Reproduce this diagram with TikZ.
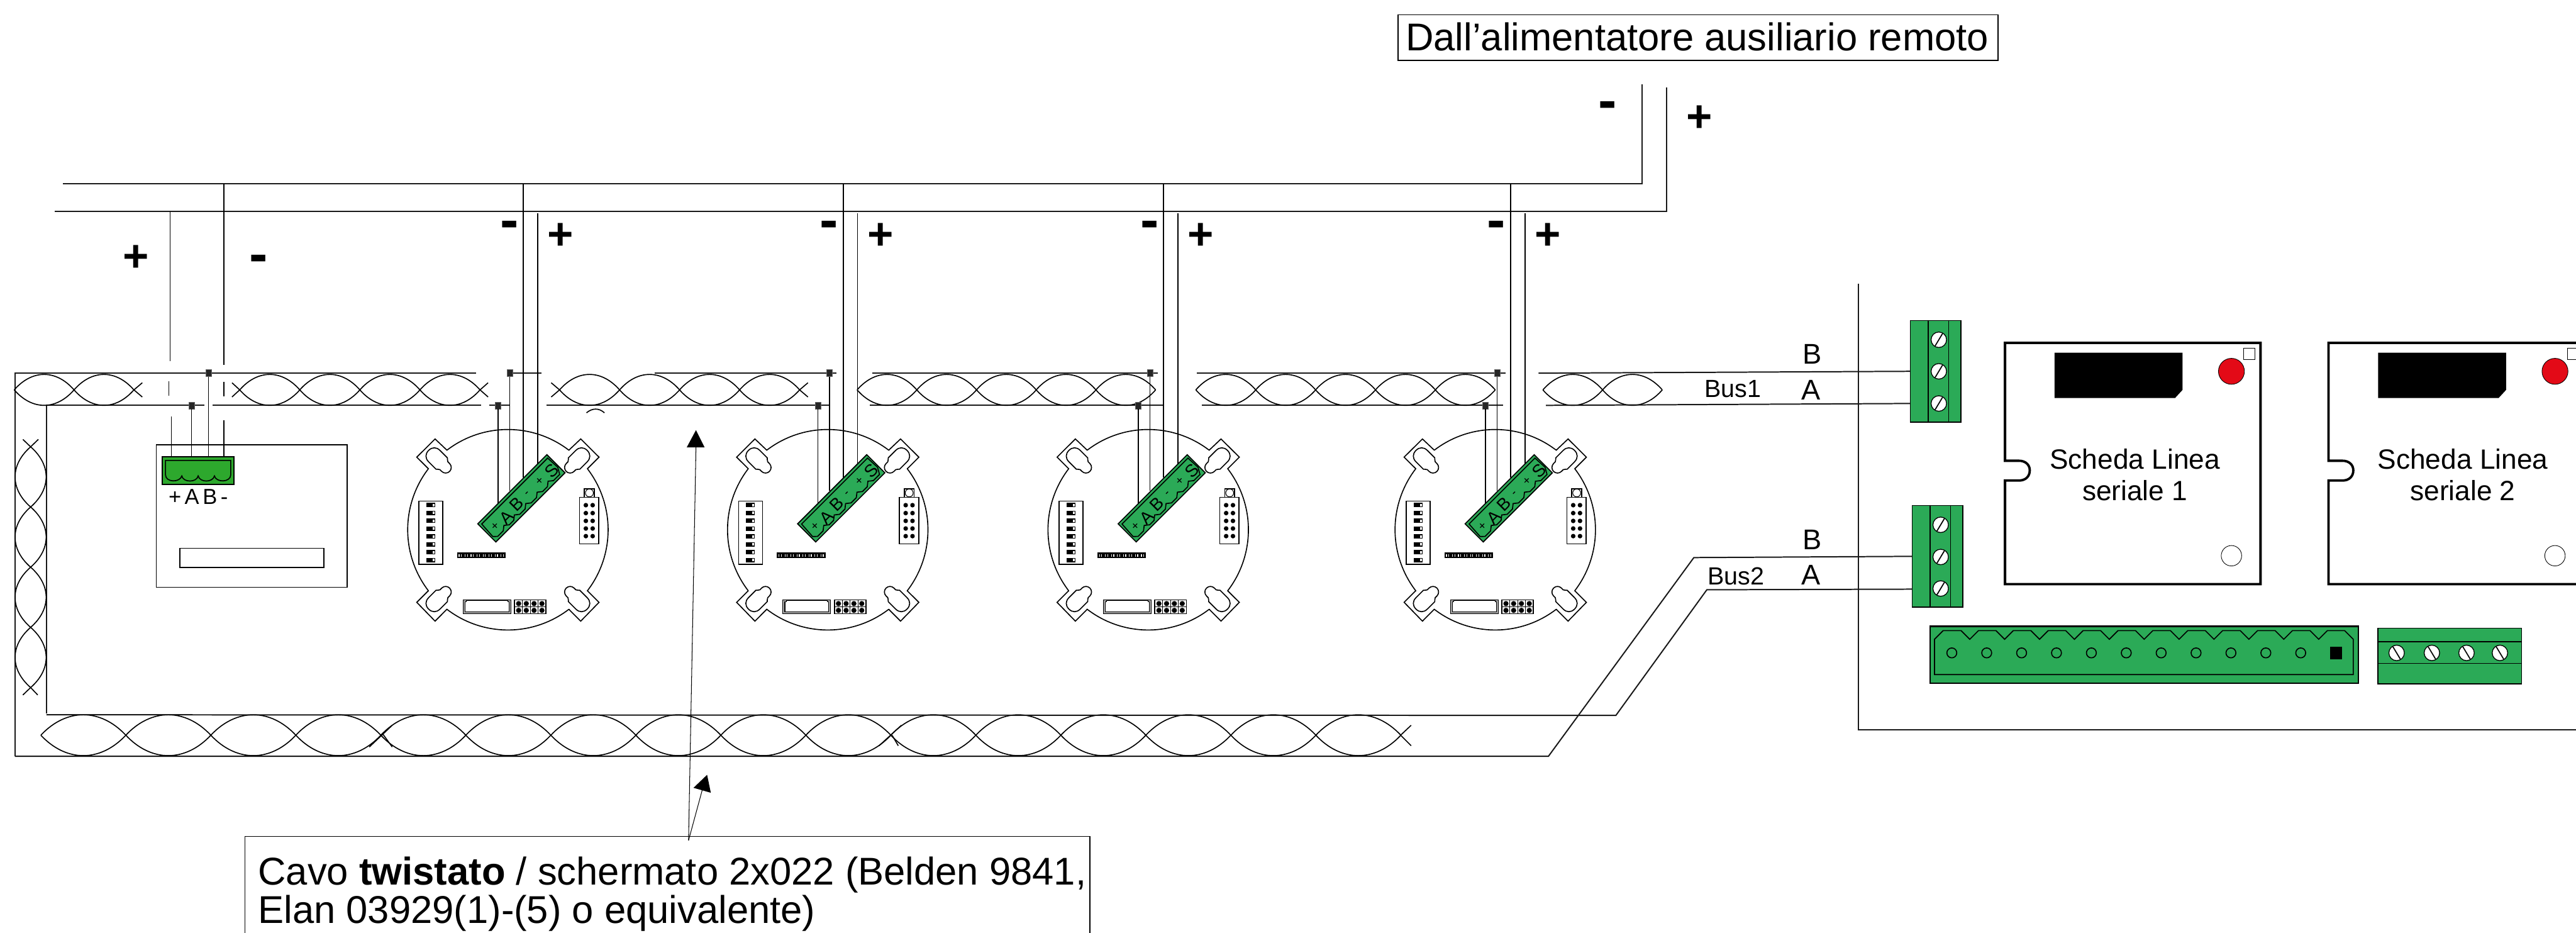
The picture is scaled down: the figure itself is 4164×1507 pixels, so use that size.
\documentclass[tikz,border=0pt]{standalone}
\usepackage{fontspec}
\setmainfont{Liberation Sans}
\definecolor{gboard}{HTML}{2BAA57}
\definecolor{gterm}{HTML}{2DA82D}
\definecolor{redled}{HTML}{E30A17}
\tikzset{
  x=0.2mm,y=-0.2mm,
  wire/.style={line width=0.95pt,black},
  hline/.style={line width=1.15pt,black!90},
  cardline/.style={line width=2.2pt,black},
  gbox/.style={line width=0.9pt,black,fill=gboard},
  dotn/.style={draw=black!60,fill=black!85,line width=0.3pt,inner sep=0pt,minimum width=5.2pt,minimum height=6.4pt},
  lab/.style={inner sep=0pt,anchor=base,font=\fontsize{26.2}{30}\selectfont},
  busl/.style={inner sep=0pt,anchor=base west,font=\fontsize{22.8}{26}\selectfont},
  cardt/.style={inner sep=0pt,anchor=base,font=\fontsize{25.6}{30}\selectfont},
  big/.style={inner sep=0pt,anchor=base west,font=\fontsize{35.6}{35.6}\selectfont},
  plusl/.style={inner sep=0pt,anchor=base,font=\bfseries\fontsize{41}{45}\selectfont},
  minusl/.style={inner sep=0pt,anchor=base,font=\bfseries\fontsize{51}{55}\selectfont},
  boardl/.style={inner sep=0pt,anchor=center,rotate=45,font=\fontsize{16}{18}\selectfont},
  boards/.style={inner sep=0pt,anchor=center,rotate=45,font=\fontsize{11}{13}\selectfont},
}
\newcommand{\twistH}[5]{%
  \draw[wire] \foreach \i in {1,...,#3}{
    ({#1+(\i-1)*#2},#4) .. controls ({#1+(\i-.7)*#2},{#4-#5}) and ({#1+(\i-.3)*#2},{#4-#5}) .. ({#1+\i*#2},#4)
    ({#1+(\i-1)*#2},#4) .. controls ({#1+(\i-.7)*#2},{#4+#5}) and ({#1+(\i-.3)*#2},{#4+#5}) .. ({#1+\i*#2},#4)
  };}
\newcommand{\twistV}[5]{%
  \draw[wire] \foreach \i in {1,...,#3}{
    (#4,{#1+(\i-1)*#2}) .. controls ({#4-#5},{#1+(\i-.7)*#2}) and ({#4-#5},{#1+(\i-.3)*#2}) .. (#4,{#1+\i*#2})
    (#4,{#1+(\i-1)*#2}) .. controls ({#4+#5},{#1+(\i-.7)*#2}) and ({#4+#5},{#1+(\i-.3)*#2}) .. (#4,{#1+\i*#2})
  };}
\newcommand{\screwf}[3]{%
  \draw[line width=0.75pt,fill=white] (#1,#2) circle[radius=12.5];
  \draw[line width=1pt] ({#1-#3*6},{#2+10}) -- ({#1+#3*6},{#2-10});}
\newcommand{\keyhole}[2]{%
  \begin{scope}[shift={#1},rotate=#2]
  \draw[wire] (-13,0) .. controls (-13,-8) and (-8,-13) .. (0,-13) -- (17,-13) .. controls (19,-13) and (19,-9) .. (22,-9) -- (26,-9) .. controls (31,-9) and (35,-5) .. (35,0) .. controls (35,5) and (31,9) .. (26,9) -- (22,9) .. controls (19,9) and (19,13) .. (17,13) -- (0,13) .. controls (-8,13) and (-13,8) .. (-13,0) -- cycle;
  \end{scope}}
\newcommand{\device}[2]{%
 \begin{scope}[shift={(#2,856)}]
  \draw[wire] plot[domain=-127.5:-52.5,samples=40] ({162*cos(\x)},{162*sin(\x)})
     -- (98.3,-128.3) -- (117.7,-146.7) -- (147.3,-117.3) -- (128.3,-98.3)
     -- plot[domain=-37.5:37.5,samples=40] ({162*cos(\x)},{162*sin(\x)})
     -- (147.3,117.3) -- (117.7,147.7) -- (98.3,128.3)
     -- plot[domain=52.5:127.5,samples=40] ({162*cos(\x)},{162*sin(\x)})
     -- (-117.7,147.7) -- (-147.3,117.3) -- (-128.3,98.3)
     -- plot[domain=142.5:217.5,samples=40] ({162*cos(\x)},{162*sin(\x)})
     -- (-147.3,-117.3) -- (-117.7,-146.7) -- (-98.3,-128.3);
  \keyhole{(-119,-119)}{-45}
  \keyhole{(119,-119)}{-135}
  \keyhole{(-119,119)}{45}
  \keyhole{(119,119)}{135}
  \draw[wire,fill=white] (-144,-46.3) rectangle (-105.3,55.7);
  \foreach \k in {0,...,7}{
    \fill[black] (-132,{-43.5+\k*12.7}) rectangle (-117.7,{-36.5+\k*12.7});
    \fill[white] (-122,{-42+\k*12.7}) rectangle (-118.7,{-38+\k*12.7});
  }
  \fill[black] (-82.3,37) rectangle (-3.7,46);
  \foreach \k in {0,...,7}{ \fill[white] ({-79.5+\k*9.7},39.5) rectangle ({-74.5+\k*9.7},44); \fill[black] ({-78.2+\k*9.7},39.5) rectangle ({-75.8+\k*9.7},44);}
  \draw[wire,fill=white] (115.7,-52.3) rectangle (147,23);
  \foreach \k in {-39.7,-26.9,-14.3,-2,10.3}{
    \fill[black] (126,\k) circle[radius=3.7];
    \fill[black] (137,\k) circle[radius=3.7];
  }
  \draw[wire,fill=white] (123.7,-66) rectangle (139.7,-52.3);
  \draw[line width=0.6pt,fill=white] (131.7,-59.5) circle[radius=6.4];
  \draw[line width=0.6pt,fill=black!35] (-72.7,113.7) rectangle (4.7,136);
  \draw[line width=0.6pt,fill=white] (-69.3,116) -- (-67,116) -- (-67,114.5) -- (-0.5,114.5) -- (-0.5,116) -- (1.7,116) -- (1.7,132.7) -- (-69.3,132.7) -- cycle;
  \draw[wire,fill=white] (10.7,113.3) rectangle (61.7,135.7);
  \draw[line width=0.5pt] (23.5,113.3) -- (23.5,135.7) (36,113.3) -- (36,135.7) (48.7,113.3) -- (48.7,135.7) (10.7,124.8) -- (61.7,124.8);
  \foreach \k in {17.3,29.7,42.3,55}{
    \fill[black] (\k,119.3) circle[radius=4.2];
    \fill[black] (\k,130.3) circle[radius=4.2];
  }
  \node[dotn] (#1b) at (-16,-201) {};
  \node[dotn] (#1t) at (3,-253) {};
  \coordinate (#1be) at (-16,-43);
  \coordinate (#1te) at (3,-63);
  \coordinate (#1mt) at (25,-559);
  \coordinate (#1me) at (25,-84);
  \coordinate (#1pt) at (48,-511);
  \coordinate (#1pe) at (48,-106);
  \draw[wire] (#1b) -- (#1be);
  \draw[wire] (#1t) -- (#1te);
  \draw[wire] (#1mt) -- (#1me);
  \draw[wire] (#1pt) -- (#1pe);
  \begin{scope}[shift={(21.8,-50.8)},rotate=45]
    \draw[wire,fill=gboard] (-79,-20.7) rectangle (79,20.7);
    \draw[wire] (-74.7,-16) -- (76,-16) -- (77,6) -- (71,16.5) -- (57,16.5) -- (50,11) -- (43,16.5) -- (32,16.5) -- (25,11) -- (18,16.5) -- (6,16.5) -- (-1,11) -- (-8,16.5) -- (-20,16.5) -- (-27,11) -- (-34,16.5) -- (-44,16.5) -- (-51,11) -- (-58,16.5) -- (-70.5,16.5) -- (-76.4,11) -- cycle;
    \node[boards] (#1l1) at (-61.7,2) {+};
    \node[boardl] (#1l2) at (-38.2,4.5) {A};
    \node[boardl] (#1l3) at (-12,1) {B};
    \node[boards] (#1l4) at (12,2.5) {-};
    \node[boards] (#1l5) at (40.8,1) {+};
    \node[boardl] (#1l6) at (65.8,3.3) {S};
  \end{scope}
 \end{scope}}
\newcommand{\card}[3]{%
 \begin{scope}[shift={(#1,0)}]
  \draw[cardline] (0,554) -- (413,554) -- (413,944) -- (0,944) -- (0,776.5) -- (22.5,776.5) .. controls (33,776.5) and (40,770) .. (40,760) .. controls (40,751) and (33,744.5) .. (22.5,744.5) -- (0,744.5) -- cycle;
  \fill[black] (80,570) -- (287,570) -- (287,630) -- (275,643) -- (80,643) -- cycle;
  \draw[line width=0.5pt,fill=redled] (366,600) circle[radius=21];
  \draw[line width=0.4pt,fill=white] (386,563) rectangle (404,581);
  \draw[line width=0.5pt,fill=white] (366,898) circle[radius=16.5];
  \node[cardt] (#3a) at (#2,757.5) {Scheda Linea};
  \node[cardt] (#3b) at (#2,809) {seriale #3};
 \end{scope}}
\newcommand{\term}[5]{%
  \draw[line width=0.9pt,fill=gboard] (#1,#2) rectangle ({#1+82},{#2+164});
  \draw[line width=0.75pt] ({#1+29},#2) -- ({#1+29},{#2+164}) ({#1+62},#2) -- ({#1+62},{#2+164});
  \screwf{#1+46}{#3}{1}\screwf{#1+46}{#4}{1}\screwf{#1+46}{#5}{1}}
\begin{document}
\begin{tikzpicture}
\useasboundingbox (0,0) rectangle (4164,1507);
\fill[white] (0,0) rectangle (4164,1507);

% --- title box and supply
\node[draw,line width=0.8pt,inner sep=0pt,minimum width=970*0.56906pt,minimum height=74*0.56906pt,anchor=north west] (titlebox) at (2259,23) {};
\node[big] (titletext) at (2272,82) {Dall’alimentatore ausiliario remoto};
\coordinate (supM) at (2654,136); \coordinate (supMc) at (2654,297); \coordinate (supMl) at (102,297);
\coordinate (supP) at (2694,141); \coordinate (supPc) at (2694,342); \coordinate (supPl) at (88,342);
\draw[hline] (supM) -- (supMc) -- (supMl);
\draw[hline] (supP) -- (supPc) -- (supPl);
\node[minusl] (mTop) at (2599,193) {-};
\node[plusl] (pTop) at (2747,213) {+};

% --- sign labels
\node[plusl] (p0) at (219.5,439) {+};
\node[minusl] (m0) at (417.5,440.5) {-};
\foreach \a/\b/\n in {823.5/906/1,1340.5/1423/2,1858.5/1941/3,2418.5/2502/4}{
  \node[minusl] (m\n) at (\a,385.5) {-};
  \node[plusl] (p\n) at (\b,403) {+};
}

% --- bus segments
\draw[hline] (24,1222) -- (24,603) -- (770,603);
\draw[hline] (75,1153) -- (75,655) -- (330,655);
\draw[hline] (344,655) -- (778,655);
\draw[hline] (791,655) -- (824,655);
\draw[hline] (824,603) -- (875,603);
\draw[hline] (883,655) -- (1341,655);
\draw[hline] (1058,603) -- (1352,603);
\draw[hline] (1406,655) -- (1881,655);
\draw[hline] (1410,603) -- (1872,603);
\draw[hline] (1943,655) -- (2430,655);
\draw[hline] (1935,603) -- (2434,603);

% twists along the top
\twistH{23}{96.7}{2}{630}{33.3}
\draw[wire] (216.5,630) -- (230,618.5) (216.5,630) -- (230,641.5);
\twistH{387.5}{97.1}{4}{630}{33.3}
\draw[wire] (375,618.5) -- (387.5,630) (375,641.5) -- (387.5,630) (776,630) -- (789,618.5) (776,630) -- (789,641.5);
\twistH{904.5}{97}{4}{630}{33.3}
\draw[wire] (891,618.5) -- (904.5,630) (891,641.5) -- (904.5,630) (1292.5,630) -- (1306,618.5) (1292.5,630) -- (1306,641.5);
\twistH{1385.5}{96.5}{5}{630}{33.3}
\twistH{1933}{96.8}{5}{630}{33.3}
\twistH{2494}{96.5}{2}{630}{33.3}
% twist down the left side
\twistV{722}{97.25}{4}{49.5}{33.5}
\draw[wire] (37,710) -- (49.5,722) (62,710) -- (49.5,722) (49.5,1111) -- (37,1123) (49.5,1111) -- (61,1123);
% twist along the bottom
\twistH{66}{137.4}{16}{1188}{44}
\draw[wire] (2264,1188) -- (2281,1172) (2264,1188) -- (2281,1205);
\draw[wire] (634,1172) -- (597,1207) (618,1185) -- (634,1207) (1457,1172) -- (1421,1205) (1442,1188) -- (1452,1205);
\draw[wire] (948,667) .. controls (958,659) and (968,659) .. (977,667);

% bottom bus wires to Bus2
\draw[hline] (75,1155) -- (2612,1156) -- (2759,953) -- (3091,952);
\draw[hline] (24,1222) -- (2503,1222) -- (2738,901) -- (3091,899);
% Bus1 wires
\draw[hline] (2487,603) -- (3088,600);
\draw[hline] (2499,655) -- (3088,652);

% --- first device (power unit)
\draw[wire] (252.6,719) rectangle (561,949);
\draw[wire] (290.5,886) rectangle (523.5,917);
\draw[line width=0.9pt,fill=gterm] (262,738) rectangle (378,783);
\draw[wire] (267.5,767) -- (267.5,744) -- (373,744) -- (373,767)
  .. controls (373,780) and (349,780) .. (346.7,769)
  .. controls (344,780) and (323,780) .. (320.3,769)
  .. controls (318,780) and (296,780) .. (293.9,769)
  .. controls (291,780) and (267.5,780) .. (267.5,767);
\node[inner sep=0pt,anchor=base,font=\fontsize{20}{24}\selectfont] (pwrlab) at (320.5,815) {+\kern3.2pt A\kern3.2pt B\kern3.2pt -};
\node[dotn] (pwrB) at (309.4,655) {};
\node[dotn] (pwrT) at (337,603) {};
\coordinate (pwrBe) at (309.4,738);
\coordinate (pwrTe) at (337,738);
\draw[wire] (pwrB) -- (pwrBe);
\draw[wire] (pwrT) -- (pwrTe);
\draw[wire] (275,342) -- (275,584);
\draw[wire] (273,616) -- (273,639);
\draw[wire] (277,673) -- (277,738);
\draw[wire] (362,297) -- (362,590);
\draw[wire] (362,617) -- (362,640);
\draw[wire] (362,679) -- (362,738);

% --- detector bases
\device{da}{821}
\device{db}{1338}
\device{dc}{1856}
\device{dd}{2417}

% --- arrows to the cable
\node[draw,line width=0.8pt,inner sep=0pt,minimum width=1366*0.56906pt,minimum height=170*0.56906pt,anchor=north west] (cabox) at (395,1351) {};
\coordinate (lead) at (1113,1358);
\coordinate (tipa) at (1125,723);
\coordinate (tipb) at (1135,1277);
\draw[line width=0.6pt] (lead) -- (tipa);
\draw[line width=0.6pt] (lead) -- (tipb);
\fill[black] (1125,695) -- (1139,723) -- (1110,723) -- cycle;
\fill[black] (1143,1252) -- (1149,1281) -- (1121,1273) -- cycle;
\node[big,align=left,anchor=north west] (catext) at (417,1384) {Cavo \textbf{twistato} / schermato 2x022 (Belden 9841,\\Elan 03929(1)-(5) o equivalente)};

% --- panel outline
\draw[hline] (3004.5,458) -- (3004.5,1179) -- (4164,1179);

% Bus labels
\node[lab] (bB1) at (2929,588) {B};
\node[lab] (bA1) at (2927,646) {A};
\node[busl] (bus1) at (2755,642) {Bus1};
\node[lab] (bB2) at (2929,888) {B};
\node[lab] (bA2) at (2927,945) {A};
\node[busl] (bus2) at (2760,945) {Bus2};

% terminals
\term{3088}{518}{549}{600}{652}
\term{3091}{817}{848}{900}{951}

% cards
\card{3241}{210}{1}
\card{3764}{217}{2}

% long connector
\draw[line width=1.3pt,fill=gboard] (3120,1012) rectangle (3812,1104);
\draw[wire] (3127,1033) -- (3141,1019)
  \foreach \k in {0,...,10}{ -- ({3170+\k*56.4},1019) -- ({3184+\k*56.4},1033) -- ({3198+\k*56.4},1019) }
  -- (3790,1019) -- (3804,1033) -- (3804,1090) -- (3127,1090) -- cycle;
\foreach \k in {0,...,10}{ \draw[wire] ({3155+\k*56.4},1055) circle[radius=8]; }
\fill[black] (3766,1045) rectangle (3786,1065);
% small connector
\draw[line width=0.9pt,fill=gboard] (3844,1015) rectangle (4076,1105);
\draw[wire] (3844,1037) -- (4076,1037) (3844,1072) -- (4076,1072);
\screwf{3874}{1055}{-1}\screwf{3931}{1055}{-1}\screwf{3987}{1055}{-1}\screwf{4041}{1055}{-1}
\end{tikzpicture}
\end{document}
